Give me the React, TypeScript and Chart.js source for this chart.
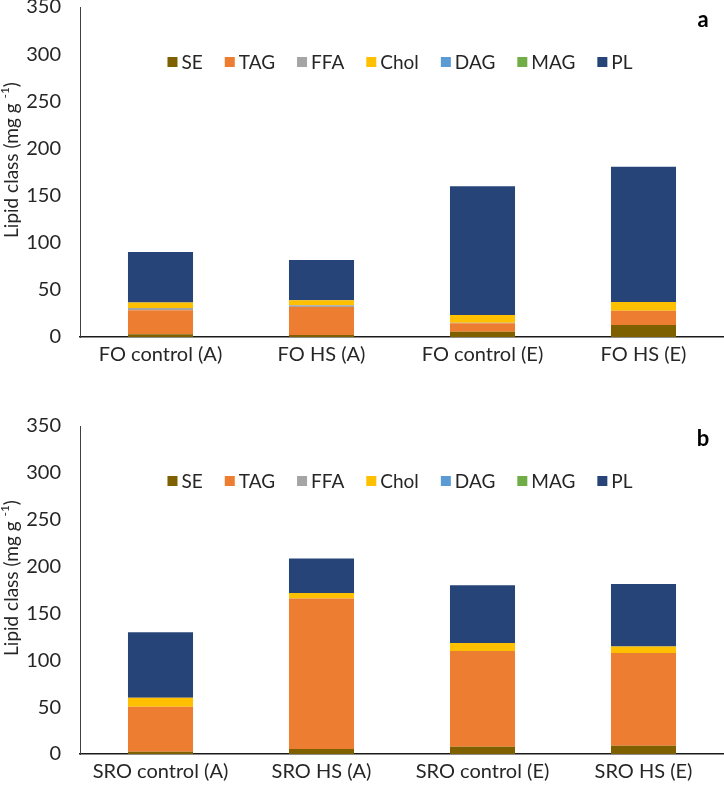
import React, { useEffect, useRef } from 'react';
import { Chart, registerables } from 'chart.js';
Chart.register(...registerables);

const FONT = 'Lato, "Noto Sans", sans-serif';

const seriesNames = ['SE', 'TAG', 'FFA', 'Chol', 'DAG', 'MAG', 'PL'];
const seriesColors = ['#7F6000', '#ED7D31', '#A5A5A5', '#FFC000', '#5B9BD5', '#70AD47', '#264478'];

// Panel a
const categoriesA = ['FO control (A)', 'FO HS (A)', 'FO control (E)', 'FO HS (E)'];
const seA = [3, 2, 5.6, 12.7];
const tagA = [25.5, 29.8, 8.9, 15.2];
const ffaA = [2.2, 1.8, 0.5, 0];
const cholA = [6, 5.3, 8.3, 9.2];
const dagA = [0, 0, 0, 0];
const magA = [0, 0, 0, 0];
const plA = [53.5, 42.8, 136.7, 143.5];

// Panel b
const categoriesB = ['SRO control (A)', 'SRO HS (A)', 'SRO control (E)', 'SRO HS (E)'];
const seB = [2.5, 5.3, 7.8, 8.9];
const tagB = [47.8, 160.5, 102.2, 98.8];
const ffaB = [0, 0, 0, 0];
const cholB = [9.6, 6.1, 8.4, 7.1];
const dagB = [0, 0, 0, 0];
const magB = [0, 0, 0, 0];
const plB = [70, 36.6, 61.6, 66.7];

const yMin = 0;
const yMax = 350;
const yStep = 50;
const yTitleMain = 'Lipid class (mg g ';
const yTitleSup = '-1';
const yTitleEnd = ')';

const overlayPlugin = {
  id: 'overlay',
  afterDraw(chart: any, _args: any, opts: any) {
    const ctx = chart.ctx;
    const area = chart.chartArea;
    ctx.save();
    // legend
    const fs = opts.fontSize;
    ctx.font = `${fs}px ${FONT}`;
    ctx.textBaseline = 'middle';
    ctx.textAlign = 'left';
    const box = 10;
    const gapBT = 4;
    const gapItems = opts.itemGap;
    const items = chart.data.datasets.map((d: any) => ({ label: d.label, color: d.backgroundColor, w: ctx.measureText(d.label).width }));
    let total = 0;
    items.forEach((it: any, i: number) => {
      total += box + gapBT + it.w + (i < items.length - 1 ? gapItems : 0);
    });
    let x = opts.legendCenterX - total / 2;
    const y = area.top + opts.legendOffsetY;
    items.forEach((it: any) => {
      ctx.fillStyle = it.color;
      ctx.fillRect(x, y - box / 2, box, box);
      ctx.fillStyle = '#262626';
      ctx.fillText(it.label, x + box + gapBT, y + 1);
      x += box + gapBT + it.w + gapItems;
    });
    // panel letter
    ctx.font = `bold 22px ${FONT}`;
    ctx.textAlign = 'center';
    ctx.fillStyle = '#000';
    ctx.fillText(opts.letter, opts.letterX, area.top + opts.letterOffsetY);
    // y title
    ctx.textAlign = 'left';
    ctx.translate(opts.titleX, (area.top + area.bottom) / 2 + opts.titleShift);
    ctx.rotate(-Math.PI / 2);
    ctx.fillStyle = '#262626';
    ctx.font = `${fs}px ${FONT}`;
    const w1 = ctx.measureText(yTitleMain).width;
    const w3 = ctx.measureText(yTitleEnd).width;
    ctx.font = `${Math.round(fs * 0.65)}px ${FONT}`;
    const w2 = ctx.measureText(yTitleSup).width;
    let tx = -(w1 + w2 + w3) / 2;
    ctx.font = `${fs}px ${FONT}`;
    ctx.fillText(yTitleMain, tx, 0);
    tx += w1;
    ctx.font = `${Math.round(fs * 0.65)}px ${FONT}`;
    ctx.fillText(yTitleSup, tx, -fs * 0.35);
    tx += w2;
    ctx.font = `${fs}px ${FONT}`;
    ctx.fillText(yTitleEnd, tx, 0);
    ctx.restore();
  },
};

function makeConfig(categories: string[], series: number[][], letter: string) {
  return {
    type: 'bar' as const,
    data: {
      labels: categories,
      datasets: seriesNames.map((name, i) => ({
        label: name,
        data: series[i],
        backgroundColor: seriesColors[i],
        borderWidth: 0,
        barPercentage: 0.404,
        categoryPercentage: 1,
      })),
    },
    options: {
      responsive: false,
      animation: false as const,
      layout: { padding: { left: 0, right: 0, top: 0, bottom: 0 } },
      plugins: {
        legend: { display: false },
        tooltip: { enabled: false },
        overlay: {
          fontSize: 19,
          itemGap: 22,
          legendCenterX: 400,
          legendOffsetY: 55,
          letter,
          letterX: 703,
          letterOffsetY: 13,
          titleX: 12,
          titleShift: -12,
        },
      },
      scales: {
        x: {
          stacked: true,
          grid: { display: false, drawTicks: false },
          border: { display: true, color: '#1a1a1a', width: 1.5 },
          ticks: { color: '#262626', font: { family: FONT, size: 20 }, padding: 6, maxRotation: 0 },
          afterFit: (scale: any) => { scale.height = 40; },
        },
        y: {
          stacked: true,
          min: yMin,
          max: yMax,
          grid: { display: false, drawTicks: false },
          border: { display: true, color: '#404040', width: 1 },
          ticks: { stepSize: yStep, color: '#262626', font: { family: FONT, size: 20 }, padding: 19 },
          afterFit: (scale: any) => { scale.width = 80; },
        },
      },
    },
    plugins: [overlayPlugin],
  };
}

export default function App() {
  const refA = useRef<HTMLCanvasElement>(null);
  const refB = useRef<HTMLCanvasElement>(null);
  useEffect(() => {
    document.body.style.margin = '0';
    const a = new Chart(refA.current!, makeConfig(categoriesA, [seA, tagA, ffaA, cholA, dagA, magA, plA], 'a') as any);
    const b = new Chart(refB.current!, makeConfig(categoriesB, [seB, tagB, ffaB, cholB, dagB, magB, plB], 'b') as any);
    return () => { a.destroy(); b.destroy(); };
  }, []);
  return (
    <div style={{ position: 'fixed', left: 0, top: 0, width: 724, height: 793, overflow: 'hidden', background: '#fff' }}>
      <div style={{ position: 'absolute', left: 0, top: -24, width: 724, height: 401 }}>
        <canvas ref={refA} width={724} height={401} style={{ width: 724, height: 401, display: 'block' }} />
      </div>
      <div style={{ position: 'absolute', left: 0, top: 395, width: 724, height: 399 }}>
        <canvas ref={refB} width={724} height={399} style={{ width: 724, height: 399, display: 'block' }} />
      </div>
    </div>
  );
}
